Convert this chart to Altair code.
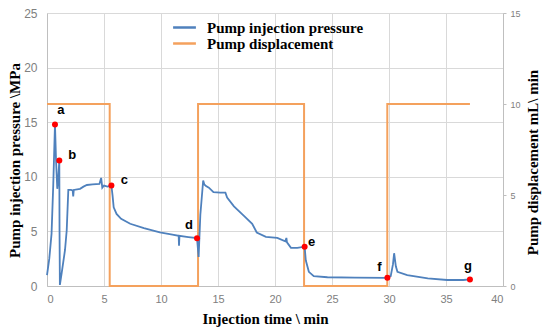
import altair as alt
import pandas as pd

# Pump injection pressure (MPa) vs injection time (min)
time_min = [0.0, 0.2, 0.4, 0.55, 0.7, 0.79, 0.9, 1.0, 1.08, 1.1, 1.13, 1.29, 1.58, 1.73, 1.87,
            2.1, 2.25, 2.3, 2.35, 2.9, 3.2, 3.5, 4.0, 4.6, 4.75, 4.85, 5.0, 5.3, 5.65,
            5.75, 5.85, 6.1, 6.5, 7.3, 8.5, 9.9, 11.0, 11.55, 11.58, 11.62, 12.4, 13.16,
            13.3, 13.45, 13.7, 13.8, 13.95, 14.2, 14.6, 15.2, 15.65, 15.8, 16.4, 17.3,
            18.0, 18.4, 19.2, 20.2, 20.9, 21.0, 21.05, 21.4, 21.95, 22.6,
            22.7, 22.97, 23.4, 24.6, 27.0, 29.86, 30.15, 30.35, 30.45, 30.6, 30.74,
            31.6, 33.4, 35.1, 36.5, 37.1]
pressure_mpa = [1.0, 2.5, 4.8, 9.3, 14.8, 11.6, 8.9, 10.0, 11.5, 5.0, 0.1, 1.2, 3.3, 5.1, 8.8,
                8.8, 8.75, 8.2, 8.8, 8.9, 9.1, 9.25, 9.3, 9.35, 9.9, 9.0, 9.2, 9.1, 9.2,
                8.3, 7.2, 6.6, 6.15, 5.7, 5.3, 4.9, 4.7, 4.6, 3.7, 4.6, 4.48, 4.38,
                2.66, 6.5, 9.66, 9.3, 9.15, 9.0, 8.6, 8.55, 8.55, 8.1, 7.3, 6.4,
                5.7, 4.9, 4.5, 4.4, 4.1, 4.4, 4.0, 3.5, 3.5, 3.6,
                2.35, 1.3, 0.9, 0.8, 0.77, 0.75, 0.9, 2.0, 3.0, 1.8, 1.3,
                1.0, 0.7, 0.55, 0.55, 0.6]

# Pump displacement (mL/min), step profile
disp_time = [0.0, 5.5, 13.25, 22.55, 29.85, 37.1]
disp_rate = [10, 0, 10, 0, 10, 10]

# Key points a-g
key_labels = ["a", "b", "c", "d", "e", "f", "g"]
key_time = [0.7, 1.08, 5.65, 13.16, 22.6, 29.86, 37.1]
key_pressure = [14.8, 11.5, 9.2, 4.38, 3.6, 0.75, 0.6]
label_dx = [6, 13, 13, -8, 7, -8, -2]
label_dy = [-14, -5, -6, -13, -5, -11, -13]

S_P = "Pump injection pressure"
S_D = "Pump displacement"

press_df = pd.DataFrame({"t": time_min, "v": pressure_mpa, "series": S_P})
disp_df = pd.DataFrame({"t": disp_time, "v": disp_rate, "series": S_D})
key_df = pd.DataFrame({"t": key_time, "v": key_pressure, "lab": key_labels})

GRAY = "#808080"
x_enc = alt.X(
    "t:Q",
    scale=alt.Scale(domain=[0, 40], nice=False, zero=False),
    axis=alt.Axis(
        title=r"Injection time \ min", values=list(range(0, 45, 5)),
        grid=True, gridColor="#D9D9D9", domainColor="#BFBFBF", ticks=False,
        labelColor=GRAY, labelFont="Liberation Sans", labelFontSize=11, labelPadding=7,
        titleFont="Liberation Serif", titleFontWeight="bold", titleFontSize=15,
        titleColor="#000000", titleX=218, titleY=25, titleBaseline="top",
    ),
)

color_enc = alt.Color(
    "series:N",
    scale=alt.Scale(domain=[S_P, S_D], range=["#4F81BD", "#F4A15D"]),
    legend=alt.Legend(
        title=None, orient="none", legendX=130, legendY=7, padding=0,
        symbolType="M-1.9,0H1.9", symbolSize=144, symbolStrokeWidth=2.5,
        rowPadding=0, labelOffset=15, labelLimit=300,
        labelFont="Liberation Serif", labelFontWeight="bold", labelFontSize=15,
        labelColor="#000000",
    ),
)

y_left = alt.Y(
    "v:Q",
    scale=alt.Scale(domain=[0, 25], nice=False),
    axis=alt.Axis(
        orient="left", title=r"Pump injection pressure \MPa", values=[0, 5, 10, 15, 20, 25],
        grid=True, gridColor="#D9D9D9", domainColor="#BFBFBF", ticks=False,
        labelColor=GRAY, labelFont="Liberation Sans", labelFontSize=12, labelPadding=10,
        titleFont="Liberation Serif", titleFontWeight="bold", titleFontSize=15,
        titleColor="#000000", titleX=-25, titleY=147, titleAngle=-90,
    ),
)

y_right = alt.Y(
    "v:Q",
    scale=alt.Scale(domain=[0, 15], nice=False),
    axis=alt.Axis(
        orient="right", title=r"Pump displacement  mL\ min", values=[0, 5, 10, 15],
        grid=False, domainColor="#BFBFBF", ticks=True, tickColor="#BFBFBF", tickSize=3,
        labelColor=GRAY, labelFont="Liberation Sans", labelFontSize=9, labelPadding=4,
        titleFont="Liberation Serif", titleFontWeight="bold", titleFontSize=15,
        titleColor="#000000", titleX=37, titleY=149, titleAngle=-90,
    ),
)

disp_line = alt.Chart(disp_df).mark_line(interpolate="step-after", strokeWidth=2).encode(
    x=x_enc, y=y_right, color=color_enc
)

press_line = alt.Chart(press_df).mark_line(strokeWidth=1.8).encode(
    x=x_enc, y=y_left, color=color_enc
)

pts = alt.Chart(key_df).mark_circle(size=36, color="#FF0000", opacity=1).encode(
    x=x_enc, y=y_left
)

label_layers = []
for lab, dx, dy in zip(key_labels, label_dx, label_dy):
    label_layers.append(
        alt.Chart(key_df).transform_filter(alt.datum.lab == lab).mark_text(
            dx=dx, dy=dy, font="Liberation Sans", fontWeight="bold", fontSize=13,
            color="#000000", align="center", baseline="middle",
        ).encode(x=x_enc, y=y_left, text="lab:N")
    )

left_group = alt.layer(press_line, pts, *label_layers)

chart = alt.layer(disp_line, left_group).resolve_scale(y="independent").properties(
    width=456, height=273,
    autosize=alt.AutoSizeParams(type="none"),
    padding={"left": 39, "top": 5, "right": 39, "bottom": 41},
).configure_view(stroke=None)

chart.save("out.html", embed_options={"renderer": "svg", "actions": False})
